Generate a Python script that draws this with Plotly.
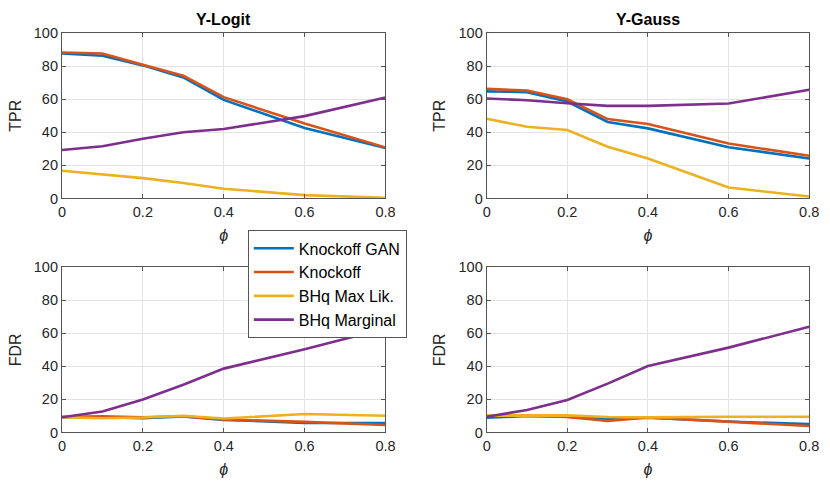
import plotly.graph_objects as go
from plotly.subplots import make_subplots

phi = [0, 0.1, 0.2, 0.3, 0.4, 0.6, 0.8]
series_names = ["Knockoff GAN", "Knockoff", "BHq Max Lik.", "BHq Marginal"]
colors = ["#0072BD", "#D95319", "#EDB120", "#7E2F8E"]

# TPR, Y-Logit
tpr_logit_gan = [87.7, 86.3, 80.5, 73.2, 59.6, 42.6, 30.5]
tpr_logit_knock = [88.3, 87.7, 80.9, 74.2, 61.3, 45.3, 30.9]
tpr_logit_maxlik = [16.8, 14.6, 12.3, 9.4, 5.9, 2.0, 0.4]
tpr_logit_marg = [29.3, 31.6, 36.1, 40.0, 42.0, 49.8, 61.1]

# TPR, Y-Gauss
tpr_gauss_gan = [64.8, 64.3, 58.6, 46.3, 42.4, 31.0, 24.2]
tpr_gauss_knock = [66.4, 65.2, 60.0, 48.0, 45.0, 33.2, 25.8]
tpr_gauss_maxlik = [48.2, 43.4, 41.4, 31.3, 24.2, 6.6, 1.2]
tpr_gauss_marg = [60.5, 59.4, 57.6, 56.0, 56.0, 57.4, 65.8]

# FDR, Y-Logit
fdr_logit_gan = [9.2, 9.2, 8.6, 9.7, 7.6, 5.8, 5.7]
fdr_logit_knock = [9.5, 9.7, 9.2, 9.7, 7.8, 6.4, 4.5]
fdr_logit_maxlik = [9.2, 8.6, 9.0, 10.1, 8.4, 11.1, 10.1]
fdr_logit_marg = [9.2, 12.7, 19.9, 28.8, 38.6, 50.3, 62.8]

# FDR, Y-Gauss
fdr_gauss_gan = [8.9, 9.9, 9.5, 8.2, 8.9, 6.6, 5.0]
fdr_gauss_knock = [10.1, 10.1, 9.3, 7.0, 9.1, 6.4, 3.9]
fdr_gauss_maxlik = [10.1, 10.3, 10.3, 9.3, 9.1, 9.5, 9.5]
fdr_gauss_marg = [9.5, 13.6, 19.6, 29.5, 40.2, 51.3, 63.9]

panels = [
    (1, 1, [tpr_logit_gan, tpr_logit_knock, tpr_logit_maxlik, tpr_logit_marg], "TPR"),
    (1, 2, [tpr_gauss_gan, tpr_gauss_knock, tpr_gauss_maxlik, tpr_gauss_marg], "TPR"),
    (2, 1, [fdr_logit_gan, fdr_logit_knock, fdr_logit_maxlik, fdr_logit_marg], "FDR"),
    (2, 2, [fdr_gauss_gan, fdr_gauss_knock, fdr_gauss_maxlik, fdr_gauss_marg], "FDR"),
]

fig = make_subplots(rows=2, cols=2)

FONT = "Liberation Sans, Arial, sans-serif"
AX = "#262626"
AXL = "#555555"

for (r, c, data, ylab) in panels:
    show = (r == 1 and c == 1)
    for name, col, ys in zip(series_names, colors, data):
        fig.add_trace(go.Scatter(x=phi, y=ys, mode="lines", name=name,
                                 line=dict(color=col, width=2.6),
                                 showlegend=show), row=r, col=c)
    fig.update_xaxes(range=[0, 0.8], tickvals=[0, 0.2, 0.4, 0.6, 0.8],
                     ticktext=["0", "0.2", "0.4", "0.6", "0.8"],
                     title=dict(text="<i>ϕ</i>", font=dict(size=16, color=AX, family=FONT), standoff=10),
                     row=r, col=c)
    fig.update_yaxes(range=[0, 100], tickvals=[0, 20, 40, 60, 80, 100],
                     title=dict(text=ylab, font=dict(size=16, color=AX, family=FONT), standoff=8),
                     row=r, col=c)

fig.update_xaxes(showline=True, linecolor=AXL, linewidth=1.2, mirror="ticks",
                 ticks="inside", ticklen=4, tickcolor=AXL,
                 showgrid=True, gridcolor="#e3e3e3", gridwidth=1, zeroline=False,
                 tickfont=dict(size=14.5, color=AX, family=FONT))
fig.update_yaxes(showline=True, linecolor=AXL, linewidth=1.2, mirror="ticks",
                 ticks="inside", ticklen=4, tickcolor=AXL,
                 showgrid=True, gridcolor="#e3e3e3", gridwidth=1, zeroline=False,
                 tickfont=dict(size=14.5, color=AX, family=FONT))

W, H = 830, 482
xl = [59 / W, 388 / W]
xr = [491 / W, 819 / W]
yt = [1 - 197 / H, 1 - 26 / H]
yb = [1 - 439 / H, 1 - 268 / H]
fig.update_layout(
    xaxis=dict(domain=xl), yaxis=dict(domain=yt),
    xaxis2=dict(domain=xr), yaxis2=dict(domain=yt),
    xaxis3=dict(domain=xl), yaxis3=dict(domain=yb),
    xaxis4=dict(domain=xr), yaxis4=dict(domain=yb),
)

fig.add_annotation(text="<b>Y-Logit</b>", x=(xl[0] + xl[1]) / 2, y=1 - 12 / H,
                   xref="paper", yref="paper", showarrow=False,
                   xanchor="center", yanchor="middle",
                   font=dict(size=16, color="#000000", family=FONT))
fig.add_annotation(text="<b>Y-Gauss</b>", x=(xr[0] + xr[1]) / 2, y=1 - 12 / H,
                   xref="paper", yref="paper", showarrow=False,
                   xanchor="center", yanchor="middle",
                   font=dict(size=16, color="#000000", family=FONT))

fig.update_layout(
    width=W, height=H,
    margin=dict(l=0, r=0, t=0, b=0),
    paper_bgcolor="white", plot_bgcolor="white",
    font=dict(family=FONT, color=AX),
    legend=dict(x=248 / W, y=1 - 230 / H, xanchor="left", yanchor="top",
                bgcolor="white", bordercolor=AXL, borderwidth=1,
                font=dict(size=16, color="#000000", family=FONT),
                tracegroupgap=0, itemwidth=40),
)

fig.write_html("out.html")
